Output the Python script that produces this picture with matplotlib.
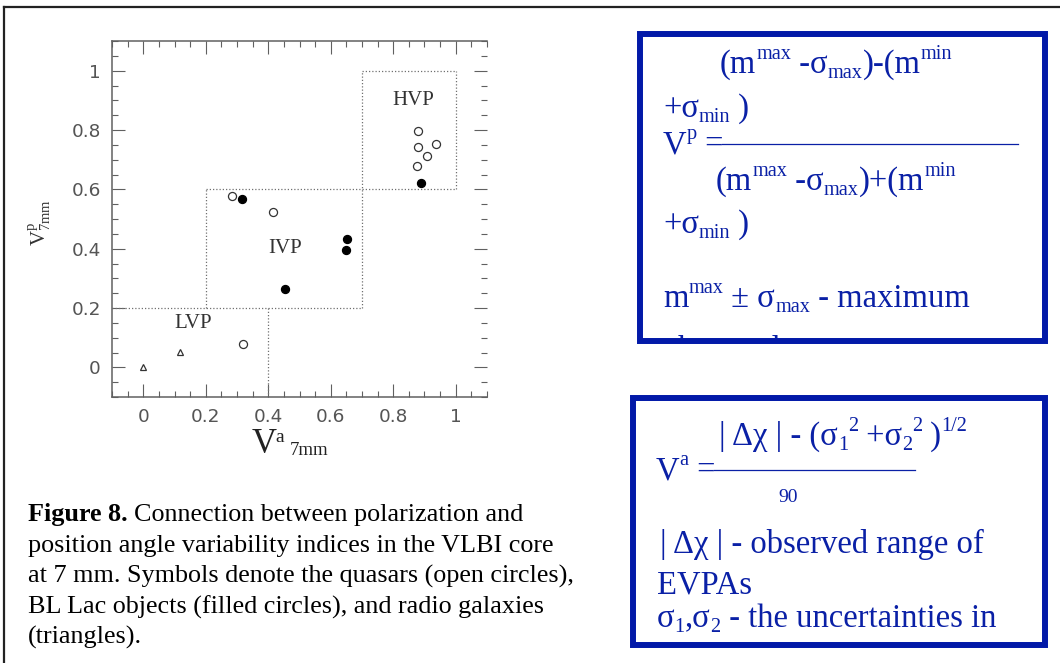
import matplotlib
matplotlib.use('Agg')
import matplotlib.pyplot as plt
from matplotlib.patches import Rectangle
from matplotlib.lines import Line2D
from matplotlib.ticker import MultipleLocator
from matplotlib.transforms import Bbox
from matplotlib.font_manager import FontProperties

plt.rcParams['mathtext.fontset'] = 'custom'
plt.rcParams['mathtext.rm'] = 'Liberation Serif'
plt.rcParams['mathtext.it'] = 'Liberation Serif:italic'
plt.rcParams['mathtext.bf'] = 'Liberation Serif:bold'

# ---------------- data ----------------
quasar_x = [0.880, 0.880, 0.938, 0.908, 0.877, 0.284, 0.415, 0.320]
quasar_y = [0.798, 0.742, 0.753, 0.714, 0.680, 0.578, 0.523, 0.080]
bllac_x = [0.889, 0.316, 0.651, 0.650, 0.454]
bllac_y = [0.621, 0.569, 0.434, 0.397, 0.264]
radiogal_x = [0.0, 0.119]
radiogal_y = [0.0, 0.051]

boundary_x = [[-0.1, 0.7], [0.4, 0.4], [0.2, 0.2], [0.2, 1.0], [0.7, 0.7], [1.0, 1.0], [0.7, 1.0]]
boundary_y = [[0.2, 0.2], [-0.1, 0.2], [0.2, 0.6], [0.6, 0.6], [0.2, 1.0], [0.6, 1.0], [1.0, 1.0]]

region_names = ["HVP", "IVP", "LVP"]
region_x = [0.864, 0.453, 0.160]
region_y = [0.898, 0.400, 0.147]

tick_values = [0, 0.2, 0.4, 0.6, 0.8, 1]
tick_labels = ["0", "0.2", "0.4", "0.6", "0.8", "1"]

caption_head = "Figure 8."
caption_lines = [
    "Connection between polarization and",
    "position angle variability indices in the VLBI core",
    "at 7 mm. Symbols denote the quasars (open circles),",
    "BL Lac objects (filled circles), and radio galaxies",
    "(triangles).",
]

# ---------------- figure ----------------
W, H = 1060, 663
fig = plt.figure(figsize=(W / 100, H / 100), dpi=100)
renderer = fig.canvas.get_renderer()


def fx(x):
    return x / W


def fy(y):
    return 1 - y / H


def advance(s, size, weight='normal'):
    prop = FontProperties(family='Liberation Serif', size=size, weight=weight)
    w1, _, _ = renderer.get_text_width_height_descent('|' + s + '|', prop, ismath=False)
    w0, _, _ = renderer.get_text_width_height_descent('||', prop, ismath=False)
    return w1 - w0


# outer frame (top and left edges visible)
fig.add_artist(Line2D([fx(4), fx(1060)], [fy(7), fy(7)], color='#222222', lw=1.6))
fig.add_artist(Line2D([fx(4), fx(4)], [fy(7), fy(663)], color='#222222', lw=1.6))

# ---------------- plot ----------------
spine_c = '#606060'
ax = fig.add_axes([fx(112), fy(397), fx(487) - fx(112), fy(41) - fy(397)])
ax.set_xlim(-0.1, 1.1)
ax.set_ylim(-0.1, 1.1)
for s in ax.spines.values():
    s.set_color(spine_c)
    s.set_linewidth(1.1)
ax.spines['right'].set_visible(False)

ax.set_xticks(tick_values)
ax.set_xticklabels(tick_labels)
ax.set_yticks(tick_values)
ax.set_yticklabels(tick_labels)
ax.xaxis.set_minor_locator(MultipleLocator(0.05))
ax.yaxis.set_minor_locator(MultipleLocator(0.05))
ax.tick_params(which='both', direction='in', top=True, right=True,
               color=spine_c, width=0.8)
ax.tick_params(which='major', length=9.4, labelsize=13.3, labelcolor='#555555', pad=8)
ax.tick_params(which='minor', length=4.3)

for bx, by in zip(boundary_x, boundary_y):
    ax.plot(bx, by, color='#707070', lw=0.9, linestyle=(0, (1, 1.6)))

ax.plot(quasar_x, quasar_y, 'o', ms=5.8, mfc='white', mec='#333333', mew=0.9)
ax.plot(bllac_x, bllac_y, 'o', ms=5.8, mfc='black', mec='black', mew=0.9)
ax.plot(radiogal_x, radiogal_y, '^', ms=4.2, mfc='white', mec='#333333', mew=0.9)

for name, rx, ry in zip(region_names, region_x, region_y):
    ax.text(rx, ry, name, ha='center', va='center', fontsize=15,
            family='Liberation Serif', color='#333333')

# axis labels
fig.text(fx(40), fy(222), r"$\mathrm{V}^{\mathrm{p}}_{\mathrm{7mm}}$", rotation=90,
         ha='center', va='center', fontsize=15, color='#333333')
fig.text(fx(252), fy(453), "V", fontsize=25, family='Liberation Serif',
         color='#222222', va='baseline', ha='left')
fig.text(fx(275), fy(442), "a", fontsize=14, family='Liberation Serif',
         color='#222222', va='baseline', ha='left')
fig.text(fx(290), fy(455), "7mm", fontsize=13.5, family='Liberation Serif',
         color='#222222', va='baseline', ha='left')

# caption
cap_fs = 18.8
fig.text(fx(28), fy(521), caption_head, fontsize=cap_fs, family='Liberation Serif',
         weight='bold', va='baseline', ha='left', color='black')
head_w = advance(caption_head + ' ', cap_fs, 'bold')
cap_y = [521, 552, 583, 614, 644]
cap_x = [28 + head_w, 28, 28, 28, 28]
for line, cx, cy in zip(caption_lines, cap_x, cap_y):
    fig.text(fx(cx), fy(cy), line, fontsize=cap_fs, family='Liberation Serif',
             va='baseline', ha='left', color='black')

# ---------------- formula boxes ----------------
blue_border = '#0219A8'
blue_text = '#0A20A6'
fs = 23.5
SCRIPT = 0.62


def rich(x, y, segs, size=fs, clip=None):
    em = size * 100 / 72
    for txt, kind in segs:
        if kind == 'sup':
            sz, dy = size * SCRIPT, -0.42 * em
        elif kind == 'sub':
            sz, dy = size * SCRIPT, 0.15 * em
        else:
            sz, dy = size, 0
        t = fig.text(fx(x), fy(y + dy), txt, fontsize=sz, family='Liberation Serif',
                     color=blue_text, va='baseline', ha='left')
        if clip is not None:
            t.set_clip_box(clip)
            t.set_clip_on(True)
        x += advance(txt, sz)
    return x


fig.add_artist(Rectangle((fx(640), fy(341)), fx(1044.5) - fx(640), fy(34) - fy(341),
                         fill=False, ec=blue_border, lw=4.3, transform=fig.transFigure))
fig.add_artist(Rectangle((fx(633), fy(645)), fx(1045) - fx(633), fy(398) - fy(645),
                         fill=False, ec=blue_border, lw=4.3, transform=fig.transFigure))

# box 1 : V^p
rich(720, 73, [("(m", 'n'), ("max", 'sup'), (" -σ", 'n'), ("max", 'sub'),
               (")-(m", 'n'), ("min", 'sup')])
rich(663, 117, [("+σ", 'n'), ("min", 'sub'), (" )", 'n')])
xe = rich(663, 153, [("V", 'n'), ("p", 'sup'), (" =", 'n')])
fig.add_artist(Line2D([fx(xe - 1), fx(1018)], [fy(143.5), fy(143.5)], color=blue_text, lw=0.9))
rich(716, 190, [("(m", 'n'), ("max", 'sup'), (" -σ", 'n'), ("max", 'sub'),
                (")+(m", 'n'), ("min", 'sup')])
rich(663, 233, [("+σ", 'n'), ("min", 'sub'), (" )", 'n')])
rich(663, 307, [("m", 'n'), ("max", 'sup'), (" ± σ", 'n'), ("max", 'sub'),
                (" - maximum", 'n')])
rich(663, 359, [("observed", 'n')], clip=Bbox.from_extents(643, H - 338, 1042, H - 37))

# box 2 : V^a
rich(719, 445, [("| Δχ | - (σ", 'n'), ("1", 'sub'), ("2", 'sup'), (" +σ", 'n'),
                ("2", 'sub'), ("2", 'sup'), (" )", 'n'), ("1/2", 'sup')])
xe = rich(656, 479, [("V", 'n'), ("a", 'sup'), (" =", 'n')])
fig.add_artist(Line2D([fx(xe - 1), fx(915)], [fy(469.5), fy(469.5)], color=blue_text, lw=0.9))
rich(778, 502, [("90", 'n')], size=14)
rich(660, 553, [("| Δχ | - observed range of", 'n')])
rich(657, 593, [("EVPAs", 'n')])
rich(657, 627, [("σ", 'n'), ("1", 'sub'), (",σ", 'n'), ("2", 'sub'),
                (" - the uncertainties in", 'n')])

fig.savefig('out.png', dpi=100)
